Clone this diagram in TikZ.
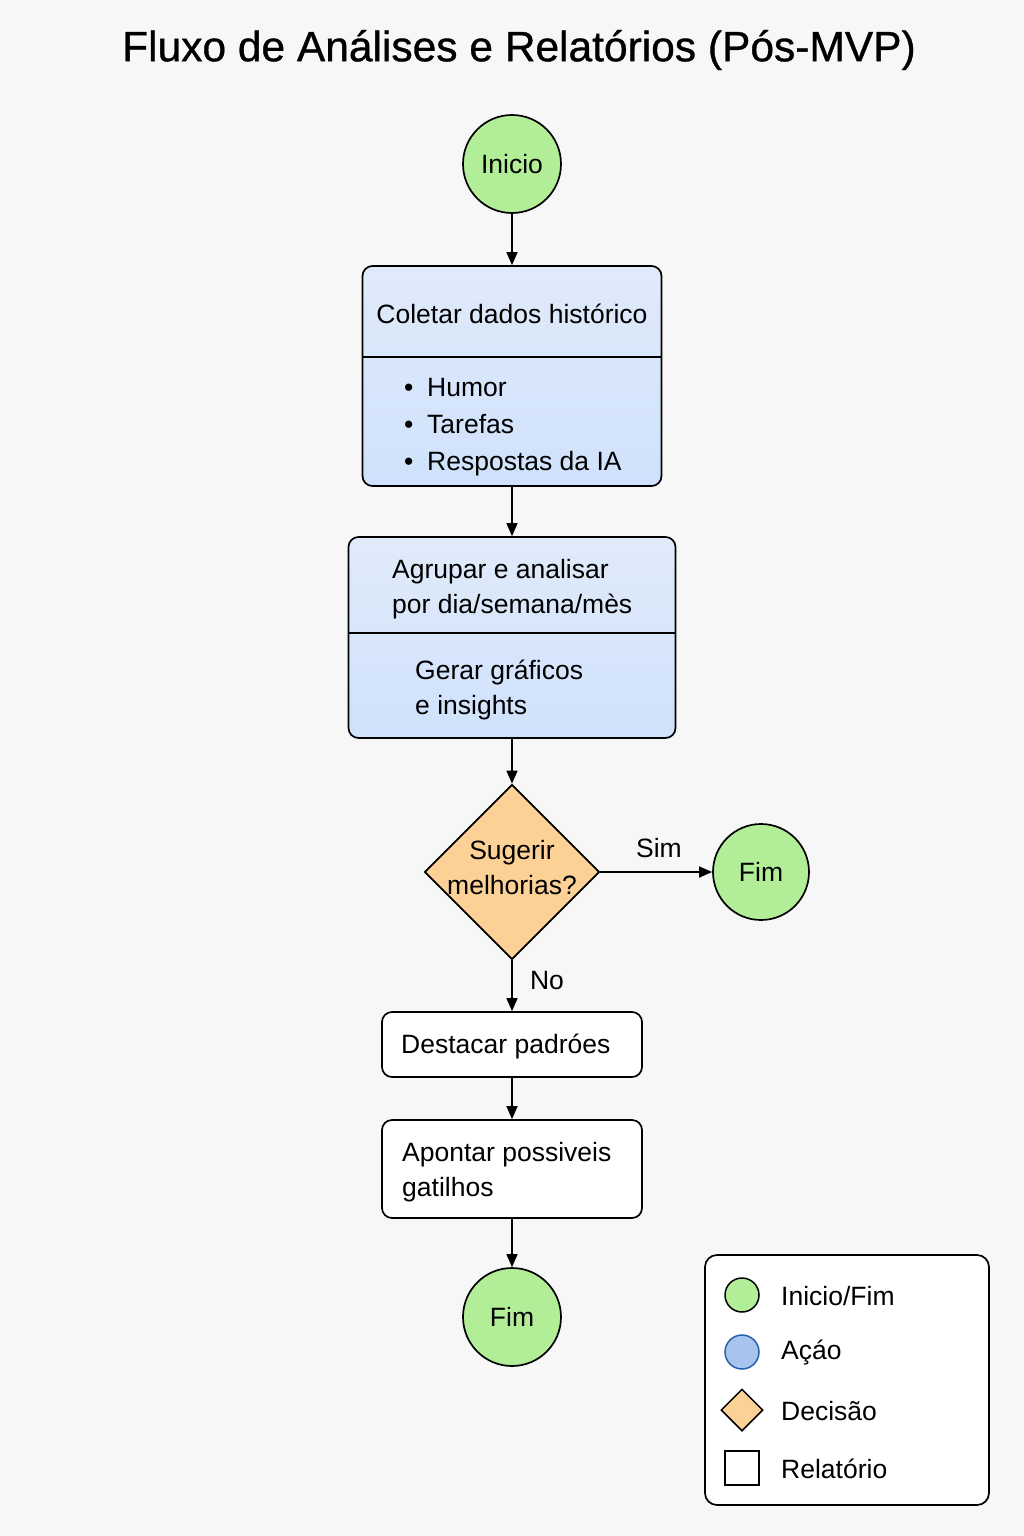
\documentclass[tikz,border=0pt]{standalone}
\usepackage{fontspec}
\setmainfont{Liberation Sans}
\newfontfamily\titlefont[FakeBold=0.8]{Liberation Sans}
\usetikzlibrary{arrows.meta,shapes.geometric}
\definecolor{bgc}{HTML}{F7F7F7}
\definecolor{startc}{HTML}{B2EE98}
\definecolor{actc}{HTML}{D7E6FB}
\definecolor{actd}{HTML}{CFE1FB}
\definecolor{acte}{HTML}{E0EBFA}
\definecolor{decc}{HTML}{FCD196}
\definecolor{legblue}{HTML}{A9C4EC}
\definecolor{legblueb}{HTML}{2A5FB0}
\begin{document}
\begin{tikzpicture}[x=1pt,y=-1pt,
  lw/.style={line width=1.7pt},
  term/.style={circle,draw=black,line width=1.7pt,fill=startc,minimum size=98pt,inner sep=0pt,font=\fontsize{26.5}{30}\selectfont},
  actbox/.style={draw=black,line width=1.7pt,top color=acte,bottom color=actd,rounded corners=10pt,inner sep=0pt},
  repbox/.style={draw=black,line width=1.7pt,fill=white,rounded corners=10pt,inner sep=0pt},
  decbox/.style={diamond,draw=black,line width=1.7pt,fill=decc,inner sep=0pt,minimum width=175pt,minimum height=175pt},
  txt/.style={font=\fontsize{26.5}{35}\selectfont,inner sep=0pt,align=left},
  btxt/.style={font=\fontsize{26.5}{37}\selectfont,inner sep=0pt,align=left},
  arr/.style={line width=1.4pt,-{Triangle[length=13pt,width=11pt]}},
]
\fill[bgc] (0,0) rectangle (1024,1536);
\useasboundingbox (0,0) rectangle (1024,1536);

\node[font=\titlefont\fontsize{42.5}{48}\selectfont,inner sep=0pt] (title) at (519,50) {Fluxo de Análises e Relatórios (Pós-MVP)};

% Inicio
\node[term] (inicio) at (512,164) {Inicio};

% Box 1
\node[actbox,minimum width=299pt,minimum height=220pt] (coletar) at (512,376) {};
\draw[lw] (coletar.west |- 0,357) -- (coletar.east |- 0,357);
\node[txt] (coletart) at (512,314) {Coletar dados histórico};
\node[btxt,anchor=west] (coletarl) at (404,427) {\makebox[23pt][l]{•}Humor\\\makebox[23pt][l]{•}Tarefas\\\makebox[23pt][l]{•}Respostas da IA};

% Box 2
\node[actbox,minimum width=327pt,minimum height=201pt] (agrupar) at (512,637.5) {};
\draw[lw] (agrupar.west |- 0,633) -- (agrupar.east |- 0,633);
\node[txt,anchor=west] (agrupart) at (392,589) {Agrupar e analisar\\por dia/semana/mès};
\node[txt,anchor=west] (gerart) at (415,690) {Gerar gráficos\\e insights};

% Decision
\node[decbox] (dec) at (512,872) {};
\node[txt,align=center] (dect) at (512,868) {Sugerir\\melhorias?};
\node[term,minimum size=96pt] (fim1) at (761,872) {Fim};
\node[txt] (sim) at (659,848) {Sim};
\node[txt] (no) at (547,981) {No};

% Reports
\node[repbox,minimum width=260pt,minimum height=65pt] (destacar) at (512,1044.5) {};
\node[txt,anchor=west] (destacart) at (401,1046) {Destacar padróes};
\node[repbox,minimum width=260pt,minimum height=98pt] (apontar) at (512,1169) {};
\node[txt,anchor=west] (apontart) at (402,1172) {Apontar possiveis\\gatilhos};

\node[term] (fim2) at (512,1317) {Fim};

% Connectors
\draw[arr] (inicio) -- (coletar);
\draw[arr] (coletar) -- (agrupar);
\draw[arr] (agrupar) -- (dec);
\draw[arr] (dec) -- (fim1);
\draw[arr] (dec) -- (destacar);
\draw[arr] (destacar) -- (apontar);
\draw[arr] (apontar) -- (fim2);

% Legend
\node[draw=black,line width=1.7pt,fill=white,rounded corners=12pt,minimum width=284pt,minimum height=250pt,inner sep=0pt] (legend) at (847,1380) {};
\node[circle,draw=black,line width=1.5pt,fill=startc,minimum size=34pt,inner sep=0pt] (lg1) at (742,1295) {};
\node[txt,anchor=west] (lg1t) at (781,1296) {Inicio/Fim};
\node[circle,draw=legblueb,line width=1.5pt,fill=legblue,minimum size=34pt,inner sep=0pt] (lg2) at (742,1352) {};
\node[txt,anchor=west] (lg2t) at (781,1353) {Açáo};
\node[diamond,draw=black,line width=1.5pt,fill=decc,minimum width=42pt,minimum height=42pt,inner sep=0pt] (lg3) at (742,1410) {};
\node[txt,anchor=west] (lg3t) at (781,1411) {Decisão};
\node[rectangle,draw=black,line width=1.5pt,fill=white,minimum size=34pt,inner sep=0pt] (lg4) at (742,1468) {};
\node[txt,anchor=west] (lg4t) at (781,1469) {Relatório};
\end{tikzpicture}
\end{document}
